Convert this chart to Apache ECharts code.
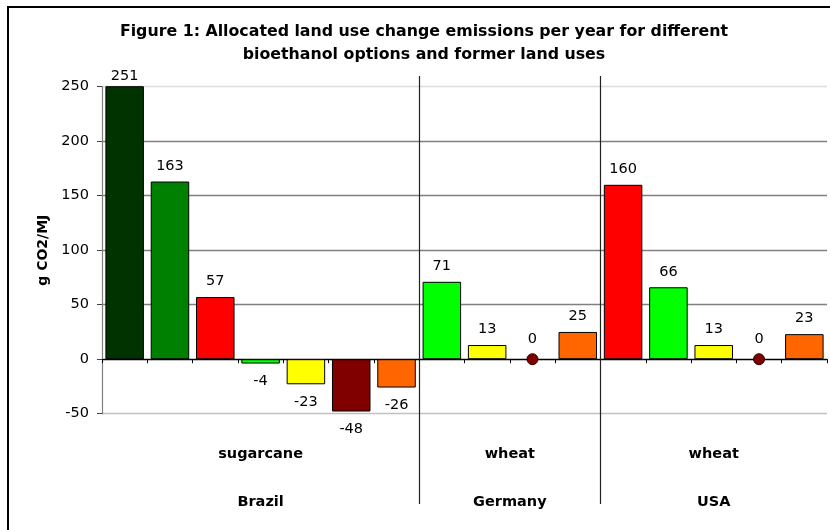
<!DOCTYPE html>
<html>
<head>
<meta charset="utf-8">
<script src="https://cdn.jsdelivr.net/npm/echarts@6/dist/echarts.min.js"></script>
<style>
  html, body { margin: 0; padding: 0; background: #fff; }
  #wrap { position: relative; width: 830px; height: 530px; overflow: hidden; }
  #chart { position: absolute; left: 0; top: 0; width: 830px; height: 530px; }
  #frame { position: absolute; left: 7px; top: 6px; width: 900px; height: 600px;
           border-top: 2px solid #000; border-left: 2px solid #000; pointer-events: none; }
</style>
</head>
<body>
<div id="wrap">
  <div id="chart"></div>
  <div id="frame"></div>
</div>
<script>
// ---- data ----
const titleText = 'Figure 1: Allocated land use change emissions per year for different\nbioethanol options and former land uses';
const yAxisName = 'g CO2/MJ';
const countries = ['Brazil', 'Germany', 'USA'];
const crops = ['sugarcane', 'wheat', 'wheat'];
const groupSizes = [7, 4, 5];
const values = [251, 163, 57, -4, -23, -48, -26, 71, 13, 0, 25, 160, 66, 13, 0, 23];
const barColors = ['#003300', '#008000', '#FF0000', '#00FF00', '#FFFF00', '#800000', '#FF6600',
                   '#00FF00', '#FFFF00', '#800000', '#FF6600',
                   '#FF0000', '#00FF00', '#FFFF00', '#800000', '#FF6600'];
const yMin = -50, yMax = 250, yStep = 50;

// ---- derived ----
const categories = values.map((v, i) => 'c' + i);
const boundaries = [];
const centers = [];
let acc = 0;
groupSizes.forEach((n, i) => {
  centers.push(acc + n / 2);
  acc += n;
  if (i < groupSizes.length - 1) boundaries.push(acc);
});
const total = acc;

const barData = values.map((v, i) => ({
  value: v,
  itemStyle: v === 0 ? { color: barColors[i], borderWidth: 0 } : { color: barColors[i] },
  label: v === 0 ? { show: false } :
         (v < 0 ? { position: 'bottom', distance: 10 } : { position: 'top', distance: 8 })
}));
const dotData = values.map(v => (v === 0 ? v : '-'));

const font = 'DejaVu Sans';
const labelTopLimit = 69; // labels are kept below the title band, as in the source chart
const chart = echarts.init(document.getElementById('chart'), null, { renderer: 'canvas' });
chart.setOption({
  animation: false,
  backgroundColor: '#fff',
  textStyle: { fontFamily: font },
  title: {
    text: titleText,
    left: 424,
    textAlign: 'center',
    top: 20,
    padding: 0,
    textStyle: { fontFamily: font, fontSize: 15.8, fontWeight: 'bold', color: '#000', lineHeight: 23.5 }
  },
  grid: { left: 102, right: 3, top: 86.7, bottom: 116.3 },
  xAxis: [
    {
      type: 'category',
      data: categories,
      boundaryGap: true,
      axisLine: { onZero: true, lineStyle: { color: '#000', width: 1 } },
      axisTick: { show: true, length: 4, lineStyle: { color: '#000' } },
      axisLabel: { show: false },
      splitLine: { show: false }
    },
    {
      type: 'value', min: 0, max: total, position: 'bottom',
      axisLine: { show: false }, axisTick: { show: false }, splitLine: { show: false },
      axisLabel: {
        show: true, customValues: centers, margin: 33,
        formatter: v => crops[centers.indexOf(v)] || '',
        fontFamily: font, fontSize: 14.5, fontWeight: 'bold', color: '#000'
      }
    },
    {
      type: 'value', min: 0, max: total, position: 'bottom',
      axisLine: { show: false }, axisTick: { show: false }, splitLine: { show: false },
      axisLabel: {
        show: true, customValues: centers, margin: 81,
        formatter: v => countries[centers.indexOf(v)] || '',
        fontFamily: font, fontSize: 14.5, fontWeight: 'bold', color: '#000'
      }
    },
    {
      type: 'value', min: 0, max: total, position: 'top', offset: 10.7,
      axisLine: { show: false }, splitLine: { show: false }, axisLabel: { show: false },
      axisTick: { show: true, customValues: boundaries, inside: true, length: 428,
                  lineStyle: { color: '#222', width: 1.2 } }
    }
  ],
  yAxis: {
    type: 'value',
    min: yMin, max: yMax, interval: yStep,
    name: yAxisName,
    nameLocation: 'middle',
    nameGap: 52,
    nameTextStyle: { fontFamily: font, fontSize: 14, fontWeight: 'bold', color: '#000' },
    axisLine: { show: true, lineStyle: { color: '#808080', width: 1.2 } },
    axisTick: { show: true, length: 5, lineStyle: { color: '#404040' } },
    axisLabel: { margin: 13, fontFamily: font, fontSize: 14.5, color: '#000' },
    splitLine: { show: true, lineStyle: { color: ['#c0c0c0', '#000', '#808080', '#808080', '#808080', '#808080', '#dcdcdc'], width: 1.3 } }
  },
  series: [
    {
      type: 'bar',
      data: barData,
      barCategoryGap: '15%',
      itemStyle: { borderColor: '#000', borderWidth: 1 },
      label: { show: true, color: '#000', fontFamily: font, fontSize: 14.5 },
      labelLayout: function (params) {
        const r = params.labelRect;
        if (r && r.y < labelTopLimit) return { dy: labelTopLimit - r.y };
        return {};
      }
    },
    {
      type: 'scatter',
      data: dotData,
      symbol: 'circle',
      symbolSize: 11,
      itemStyle: { color: '#800000', borderColor: '#300000', borderWidth: 1, opacity: 1 },
      label: { show: true, position: 'top', distance: 6, color: '#000', fontFamily: font, fontSize: 14.5 },
      z: 5
    }
  ]
});
</script>
</body>
</html>
